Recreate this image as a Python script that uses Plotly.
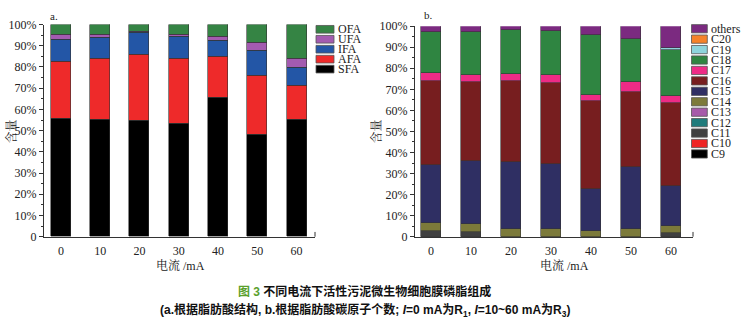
import plotly.graph_objects as go

W, H = 746, 327

# ---------------- data ----------------
currents = [0, 10, 20, 30, 40, 50, 60]
x_ticks = ["0", "10", "20", "30", "40", "50", "60"]
y_tickvals = [0, 10, 20, 30, 40, 50, 60, 70, 80, 90, 100]
y_ticktext = ["0", "10%", "20%", "30%", "40%", "50%", "60%", "70%", "80%", "90%", "100%"]

# chart a (structure)
SFA = [55.9, 55.3, 54.9, 53.4, 65.6, 48.0, 55.3]
AFA = [26.8, 28.8, 31.1, 30.4, 19.1, 28.1, 15.8]
IFA = [10.4, 9.7, 10.4, 10.6, 7.6, 11.7, 8.7]
UFA = [2.1, 1.7, 0.4, 0.8, 2.1, 3.6, 4.3]
OFA = [4.8, 4.5, 3.2, 4.8, 5.6, 8.6, 15.9]
a_names = ["SFA", "AFA", "IFA", "UFA", "OFA"]
a_series = [SFA, AFA, IFA, UFA, OFA]
a_colors = ["#000000", "#ee2a2a", "#2356a6", "#a35bb0", "#358444"]

# chart b (carbon number)
C9 = [0, 0, 0, 0, 0, 0, 0]
C10 = [0, 0, 0, 0, 0, 0, 0]
C11 = [2.6, 2.4, 0, 0, 0, 0, 1.8]
C12 = [0, 0, 0, 0, 0, 0, 0]
C13 = [0, 0, 0, 0, 0, 0, 0]
C14 = [3.9, 3.8, 3.8, 3.5, 2.7, 3.5, 3.4]
C15 = [27.7, 29.6, 31.5, 31.0, 20.0, 29.7, 18.6]
C16 = [39.7, 37.4, 38.6, 38.2, 41.7, 35.4, 39.4]
C17 = [3.7, 3.6, 3.1, 3.8, 2.6, 4.7, 3.5]
C18 = [19.7, 20.5, 21.0, 21.2, 28.8, 20.3, 21.8]
C19 = [0, 0, 0, 0, 0, 0, 0.9]
C20 = [0, 0, 0, 0, 0, 0, 0.3]
others = [2.7, 2.7, 2.0, 2.3, 4.2, 6.4, 10.3]
b_names = ["C9", "C10", "C11", "C12", "C13", "C14", "C15", "C16", "C17", "C18", "C19", "C20", "others"]
b_series = [C9, C10, C11, C12, C13, C14, C15, C16, C17, C18, C19, C20, others]
b_colors = ["#000000", "#ee2424", "#404040", "#1f7b7b", "#a65aa9", "#7c7a3a", "#2f2f63",
            "#771e1f", "#ee2b86", "#2f8541", "#8ed4dc", "#f5822a", "#7b2a80"]

SERIF = "Liberation Serif, Times New Roman, Noto Serif CJK SC, Noto Sans CJK SC, serif"
SANS = "Liberation Sans, Arial, Noto Sans CJK SC, sans-serif"
TXT = "#222222"

fig = go.Figure()

for name, vals, col in zip(a_names, a_series, a_colors):
    fig.add_trace(go.Bar(x=currents, y=vals, name=name, marker=dict(color=col, line=dict(color="#333333", width=0.6)),
                         width=5.1, xaxis="x", yaxis="y", showlegend=False))
for name, vals, col in zip(b_names, b_series, b_colors):
    fig.add_trace(go.Bar(x=currents, y=vals, name=name, marker=dict(color=col, line=dict(color="#333333", width=0.6)),
                         width=5.1, xaxis="x2", yaxis="y2", showlegend=False))


def px(x):
    return x / W


def py(y):
    return 1 - y / H


a_dom = [px(44), px(315)]
b_dom = [px(415), px(693)]
a_ydom = [py(240), py(18.3)]
b_ydom = [py(240), py(20)]

xcommon = dict(tickvals=currents, ticktext=x_ticks, showline=True, linecolor="#333333", linewidth=1,
               ticks="outside", ticklen=0, ticklabelstandoff=3, tickfont=dict(family=SERIF, size=12, color=TXT),
               showgrid=False, zeroline=False, fixedrange=True)
ycommon = dict(tickvals=y_tickvals, ticktext=y_ticktext, range=[0, 100], showline=True, linecolor="#333333",
               linewidth=1, ticks="outside", ticklen=4, tickcolor="#333333",
               minor=dict(ticks="outside", ticklen=2, dtick=5, tick0=0, tickcolor="#333333"),
               tickfont=dict(family=SERIF, size=12, color=TXT), showgrid=False, zeroline=False, fixedrange=True)

fig.update_layout(
    width=W, height=H, margin=dict(l=0, r=0, t=0, b=0),
    paper_bgcolor="white", plot_bgcolor="white",
    barmode="stack", bargap=0,
    xaxis=dict(domain=a_dom, range=[-4.3, 64.7], anchor="y", **xcommon),
    yaxis=dict(domain=a_ydom, anchor="x", **ycommon),
    xaxis2=dict(domain=b_dom, range=[-4.0, 65.5], anchor="y2", **xcommon),
    yaxis2=dict(domain=b_ydom, anchor="x2", **ycommon),
)

annotations = []
shapes = []

# panel labels
annotations.append(dict(x=px(48), y=py(9), xref="paper", yref="paper", text="a.", showarrow=False,
                        xanchor="left", yanchor="middle", font=dict(family=SERIF, size=11, color=TXT)))
annotations.append(dict(x=px(422), y=py(8), xref="paper", yref="paper", text="b.", showarrow=False,
                        xanchor="left", yanchor="middle", font=dict(family=SERIF, size=11, color=TXT)))

# axis titles
for xc in [180, 564]:
    annotations.append(dict(x=px(xc), y=py(270.5), xref="paper", yref="paper", text="电流 /mA", showarrow=False,
                            xanchor="center", yanchor="middle", font=dict(family=SERIF, size=12, color=TXT)))
for xc in [12, 377]:
    annotations.append(dict(x=px(xc), y=py(130), xref="paper", yref="paper", text="含量", showarrow=False,
                            textangle=-90, xanchor="center", yanchor="middle",
                            font=dict(family=SERIF, size=12, color=TXT)))

# small end ticks on the x axes
for xr in [315, 693]:
    shapes.append(dict(type="line", xref="paper", yref="paper", x0=px(xr), x1=px(xr), y0=py(240), y1=py(235),
                       line=dict(color="#333333", width=1)))

# legend a
a_order = list(zip(a_names, a_colors))[::-1]
for i, (name, col) in enumerate(a_order):
    yc = 23.3 + i * 10.4
    shapes.append(dict(type="rect", xref="paper", yref="paper", x0=px(316), x1=px(334), y0=py(yc + 4), y1=py(yc - 4),
                       fillcolor=col, line=dict(color="#555555", width=0.8)))
    annotations.append(dict(x=px(336), y=py(yc), xref="paper", yref="paper", text=name, showarrow=False,
                            xanchor="left", yanchor="middle", font=dict(family=SERIF, size=12, color=TXT)))

# legend b
b_order = list(zip(b_names, b_colors))[::-1]
for i, (name, col) in enumerate(b_order):
    yc = 22.7 + i * 10.9
    shapes.append(dict(type="rect", xref="paper", yref="paper", x0=px(691.5), x1=px(707.3), y0=py(yc + 4.3),
                       y1=py(yc - 4.3), fillcolor=col, line=dict(color="#555555", width=0.8)))
    annotations.append(dict(x=px(708.5), y=py(yc), xref="paper", yref="paper", text=name, showarrow=False,
                            xanchor="left", yanchor="middle", font=dict(family=SERIF, size=12, color=TXT)))

# caption
annotations.append(dict(x=px(364), y=py(297), xref="paper", yref="paper", showarrow=False,
                        xanchor="center", yanchor="middle",
                        text="<b><span style='color:#5aa02c'>图 3</span> 不同电流下活性污泥微生物细胞膜磷脂组成</b>",
                        font=dict(family=SANS, size=12, color="#111111")))
annotations.append(dict(x=px(365), y=py(317), xref="paper", yref="paper", showarrow=False,
                        xanchor="center", yanchor="middle",
                        text="<b>(a.根据脂肪酸结构, b.根据脂肪酸碳原子个数; <i>I</i>=0 mA为R<sub>1</sub>, "
                             "<i>I</i>=10~60 mA为R<sub>3</sub>)</b>",
                        font=dict(family=SANS, size=12, color="#111111")))

fig.update_layout(annotations=annotations, shapes=shapes)
fig.write_html("out.html")
